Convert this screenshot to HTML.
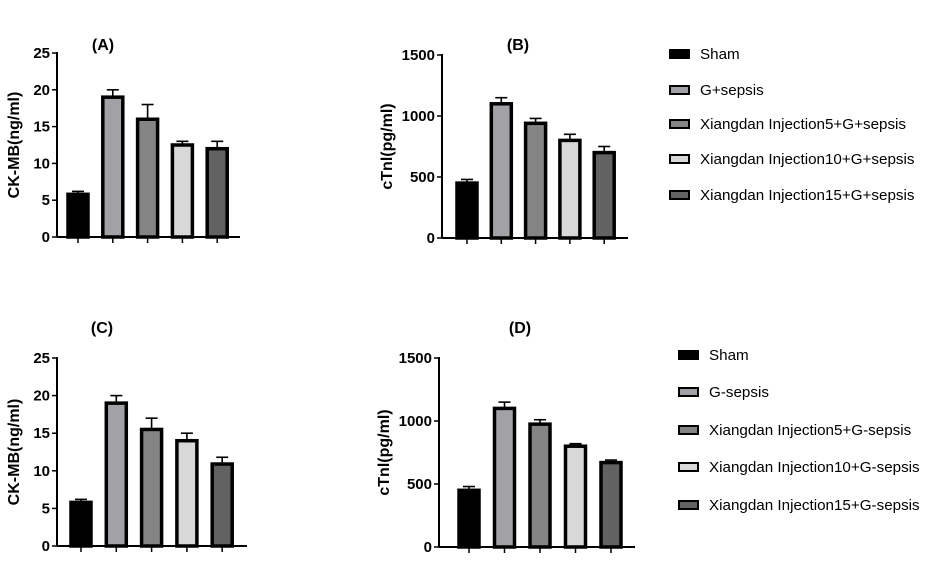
<!DOCTYPE html>
<html><head><meta charset="utf-8"><style>
html,body{margin:0;padding:0;background:#fff;}
svg{display:block;font-family:"Liberation Sans",Arial,sans-serif;}
</style></head><body>
<svg id="chart" width="935" height="562" viewBox="0 0 935 562"></svg>
<script>
const groupsTop = ["Sham","G+sepsis","Xiangdan Injection5+G+sepsis","Xiangdan Injection10+G+sepsis","Xiangdan Injection15+G+sepsis"];
const groupsBottom = ["Sham","G-sepsis","Xiangdan Injection5+G-sepsis","Xiangdan Injection10+G-sepsis","Xiangdan Injection15+G-sepsis"];
const fills = ["#000000","#a2a2a6","#848484","#d8d8d8","#626262"];
const valuesA = [5.8,19,16,12.5,12];
const errorsA = [0.4,1,2,0.5,1];
const valuesB = [450,1100,940,800,700];
const errorsB = [30,50,40,50,50];
const valuesC = [5.8,19,15.5,14,10.9];
const errorsC = [0.4,1,1.5,1,0.9];
const valuesD = [450,1100,975,800,670];
const errorsD = [30,50,35,20,20];
const ticksCK = [0,5,10,15,20,25];
const ticksTn = [0,500,1000,1500];

const svg = document.getElementById('chart');
const NS = 'http://www.w3.org/2000/svg';
function mk(tag, attrs, parent){
  const e = document.createElementNS(NS, tag);
  for (const k in attrs) e.setAttribute(k, attrs[k]);
  (parent||svg).appendChild(e);
  return e;
}

function panel(key, title, titleX, titleY, ylabel, labOff, vals, errs, ticks, ymax, ax, y0, yTop, firstC, step, axEnd){
  const g = mk('g', {});
  
  
  const ys = v => y0 - (v / ymax) * (y0 - yTop);
  const t = mk('text', {x:titleX, y:titleY, 'font-size':16, 'font-weight':'bold', 'text-anchor':'middle'}, g);
  t.textContent = title;
  
  
  const yl = mk('text', {x:0, y:0, 'font-size':16, 'font-weight':'bold', 'text-anchor':'middle', transform:`translate(${ax-labOff},${(y0+yTop)/2}) rotate(-90)`}, g);
  yl.textContent = ylabel;
  
  
  vals.forEach((v, i) => {
    const cx = firstC + i * step;
    const w = 20;
    const top = ys(v);
    const eTop = ys(v + errs[i]);
    const el = mk('line', {x1:cx, x2:cx, y1:top, y2:eTop, stroke:'#000', 'stroke-width':1.6}, g);
    
    
    const ec = mk('line', {x1:cx-6, x2:cx+6, y1:eTop, y2:eTop, stroke:'#000', 'stroke-width':1.6}, g);
    
    
    const r = mk('rect', {x:cx-w/2, y:top, width:w, height:y0-top, fill:fills[i], stroke:'#000', 'stroke-width':3.5}, g);
    
    
    const tk = mk('line', {x1:cx, x2:cx, y1:y0, y2:y0+6, stroke:'#000', 'stroke-width':1.5}, g);
    
    
  });
  const yAxis = mk('line', {x1:ax, x2:ax, y1:yTop-1, y2:y0, stroke:'#000', 'stroke-width':2}, g);
  
  
  const xAxis = mk('line', {x1:ax, x2:axEnd, y1:y0, y2:y0, stroke:'#000', 'stroke-width':2}, g);
  
  
  ticks.forEach(tv => {
    const y = ys(tv);
    const tl = mk('line', {x1:ax-5, x2:ax, y1:y, y2:y, stroke:'#000', 'stroke-width':1.5}, g);
    
    
    const tx = mk('text', {x:ax-7, y:y+5, 'font-size':15, 'font-weight':'bold', 'text-anchor':'end'}, g);
    tx.textContent = tv;
    
    
  });
}

function legend(key, names, sx, tx, rowY, fs){
  const g = mk('g', {});
  
  
  names.forEach((n, i) => {
    const y = rowY[i];
    const s = mk('rect', {x:sx, y:y-4, width:19, height:8, fill:fills[i], stroke:'#000', 'stroke-width':2}, g);
    
    
    const t = mk('text', {x:tx, y:y+5, 'font-size':fs}, g);
    t.textContent = n;
    
    
  });
}

panel('a','(A)',103,50,'CK-MB(ng/ml)',38,valuesA,errorsA,ticksCK,25,57,237,53,78,34.8,240);
panel('b','(B)',518,50,'cTnl(pg/ml)',50,valuesB,errorsB,ticksTn,1500,442,238,55,467,34.3,628);
panel('c','(C)',102,333,'CK-MB(ng/ml)',38,valuesC,errorsC,ticksCK,25,57,546,358,81,35.3,247);
panel('d','(D)',520,333,'cTnl(pg/ml)',50,valuesD,errorsD,ticksTn,1500,439,547,358,469,35.5,635);
legend('top', groupsTop, 670, 700, [54,90,124,159,195], 15.2);
legend('bottom', groupsBottom, 679, 709, [355,392,430,467,505], 15.2);
</script>
</body></html>
